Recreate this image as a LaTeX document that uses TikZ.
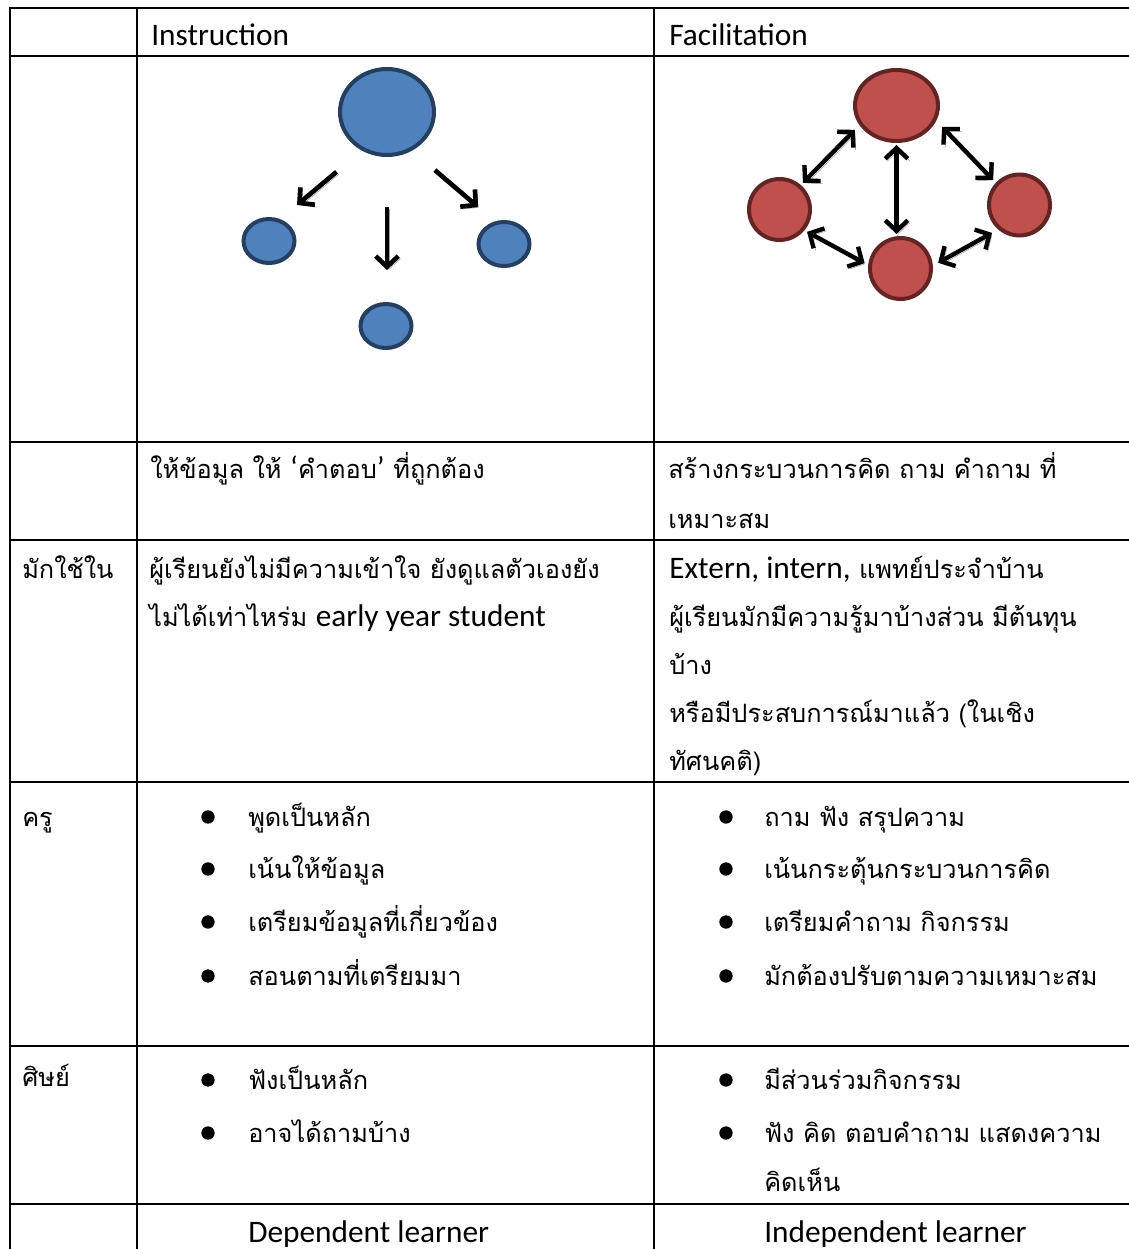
\documentclass[tikz,border=0pt]{standalone}
\usepackage{fontspec}
\setmainfont[Script=Thai]{Loma}
\newfontfamily\enfont{Carlito}
\newcommand{\en}{\enfont\fontsize{23.5}{28}\selectfont}
\usetikzlibrary{arrows.meta,shapes.geometric}
\definecolor{bfill}{HTML}{4F81BD}
\definecolor{bline}{HTML}{243F60}
\definecolor{rfill}{HTML}{C0504D}
\definecolor{rline}{HTML}{632523}
\definecolor{shadowgray}{HTML}{A0A0A0}
\tikzset{
  grid/.style={line width=1.9pt, black},
  txt/.style={anchor=base west, inner sep=0pt, font=\fontsize{19}{24}\selectfont},
  bnode/.style={ellipse, draw=bline, fill=bfill, line width=3pt, inner sep=0pt},
  rnode/.style={ellipse, draw=rline, fill=rfill, line width=3pt, inner sep=0pt},
  tipb/.tip={Straight Barb[length=8pt,width=17pt]},
  arr/.style={line width=3.5pt, black, -tipb,
    preaction={draw=shadowgray, transform canvas={shift={(1.6pt,-1.8pt)}}}},
  darr/.style={line width=3.3pt, black, tipb-tipb,
    preaction={draw=shadowgray, transform canvas={shift={(1.6pt,-1.8pt)}}}},
  dot/.style={circle, fill=black, inner sep=0pt, minimum size=10pt}
}
\begin{document}
\begin{tikzpicture}[x=0.75pt,y=-0.75pt]
\useasboundingbox (0,0) rectangle (1128,1249);
% grid
\foreach \yy in {8,56,442,540,782,1046,1204} \draw[grid] (10,\yy) -- (1130,\yy);
\foreach \xx in {10,137,654} \draw[grid] (\xx,7) -- (\xx,1252);

% header
\node[txt] (h1) at (151,45) {\en Instruction};
\node[txt] (h2) at (669,45) {\en Facilitation};

% instruction diagram
\node[bnode, minimum width=70.5pt, minimum height=64.5pt] (big) at (387,112) {};
\node[bnode, minimum width=38.25pt, minimum height=33pt] (bl) at (269,241) {};
\node[bnode, minimum width=38.25pt, minimum height=33pt] (br) at (504,244) {};
\node[bnode, minimum width=38.25pt, minimum height=33pt] (bb) at (386,326) {};
\draw[arr, shorten <=24.75pt, shorten >=16.5pt] (big.237) -- (bl.63);
\draw[arr, shorten <=37.5pt, shorten >=24pt] (big.south) -- (big.south |- bb.north);
\draw[arr, shorten <=22.5pt, shorten >=16.5pt] (big.303) -- (br.112);

% facilitation diagram
\node[rnode, minimum width=62.25pt, minimum height=53.25pt] (T) at (896.5,105.5) {};
\node[rnode, minimum width=45.75pt, minimum height=45.75pt] (L) at (779.5,209.5) {};
\node[rnode, minimum width=45.75pt, minimum height=45.75pt] (R) at (1019.5,205) {};
\node[rnode, minimum width=45.75pt, minimum height=45.75pt] (B) at (900.5,268.5) {};
\draw[darr, shorten <=4.9pt, shorten >=2.25pt] (T.208) -- (L.49);
\draw[darr, shorten <=1.5pt, shorten >=1.5pt] (T.south) -- (T.south |- B.north);
\draw[darr, shorten <=6.4pt, shorten >=3pt] (T.339) -- (R.137);
\draw[darr, shorten <=2.25pt, shorten >=3pt] (L.320) -- (B.174);
\draw[darr, shorten <=4.5pt, shorten >=5.25pt] (B.5) -- (R.229);

% row 3
\node[txt] (r3a) at (150,478) {ให้ข้อมูล ให้ {\en ‘}คำตอบ{\en ’} ที่ถูกต้อง};
\node[txt] (r3b) at (668,478) {สร้างกระบวนการคิด ถาม คำถาม ที่};
\node[txt] (r3c) at (668,528) {เหมาะสม};

% row 4
\node[txt] (r4l) at (22,578) {มักใช้ใน};
\node[txt] (r4a) at (149,578) {ผู้เรียนยังไม่มีความเข้าใจ ยังดูแลตัวเองยัง};
\node[txt] (r4b) at (149,626) {ไม่ได้เท่าไหร่ม {\en early year student}};
\node[txt] (r4c) at (669,578) {{\en Extern, intern,} แพทย์ประจำบ้าน};
\node[txt] (r4d) at (669,626) {ผู้เรียนมักมีความรู้มาบ้างส่วน มีต้นทุน};
\node[txt] (r4e) at (669,674) {บ้าง};
\node[txt] (r4f) at (669,722) {หรือมีประสบการณ์มาแล้ว (ในเชิง};
\node[txt] (r4g) at (669,770) {ทัศนคติ)};

% row 5
\node[txt] (r5l) at (22,826) {ครู};
\foreach \n/\yy/\t in {1/826/พูดเป็นหลัก, 2/878/เน้นให้ข้อมูล, 3/931/เตรียมข้อมูลที่เกี่ยวข้อง, 4/985/สอนตามที่เตรียมมา} {
  \node[dot] (d5a\n) at (208,\yy-9) {};
  \node[txt] (t5a\n) at (248,\yy) {\t};
}
\foreach \n/\yy/\t in {1/826/ถาม ฟัง สรุปความ, 2/878/เน้นกระตุ้นกระบวนการคิด, 3/931/เตรียมคำถาม กิจกรรม, 4/985/มักต้องปรับตามความเหมาะสม} {
  \node[dot] (d5b\n) at (726,\yy-9) {};
  \node[txt] (t5b\n) at (764,\yy) {\t};
}

% row 6
\node[txt] (r6l) at (22,1086) {ศิษย์};
\foreach \n/\yy/\t in {1/1089/ฟังเป็นหลัก, 2/1142/อาจได้ถามบ้าง} {
  \node[dot] (d6a\n) at (208,\yy-9) {};
  \node[txt] (t6a\n) at (248,\yy) {\t};
}
\foreach \n/\yy/\t in {1/1089/มีส่วนร่วมกิจกรรม, 2/1142/ฟัง คิด ตอบคำถาม แสดงความ} {
  \node[dot] (d6b\n) at (726,\yy-9) {};
  \node[txt] (t6b\n) at (764,\yy) {\t};
}
\node[txt] (t6b3) at (764,1191) {คิดเห็น};

% row 7
\node[txt] (r7a) at (248,1242) {\en Dependent learner};
\node[txt] (r7b) at (764,1242) {\en Independent learner};
\end{tikzpicture}
\end{document}
